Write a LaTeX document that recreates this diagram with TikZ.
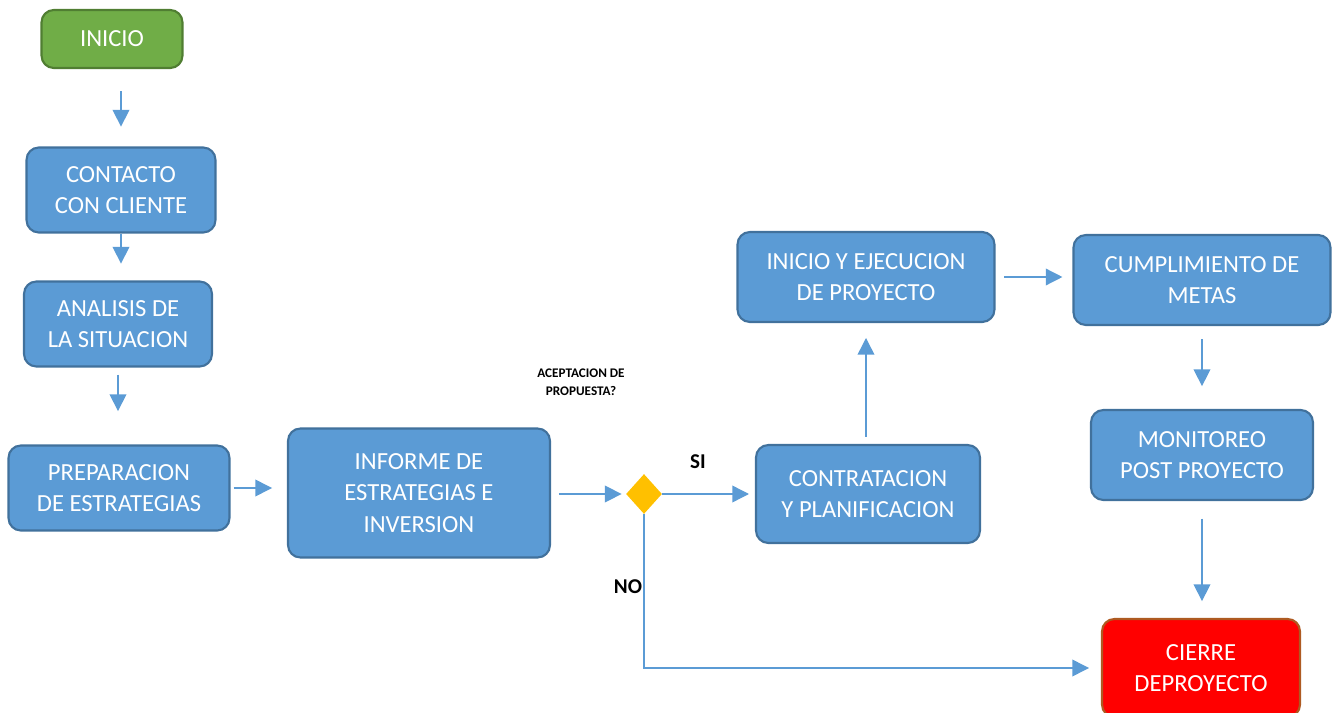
\documentclass[tikz,border=0pt]{standalone}
\usepackage{fontspec}
\setmainfont{Carlito}
\usetikzlibrary{positioning}
\usetikzlibrary{shapes.geometric}
\usetikzlibrary{arrows.meta}
\definecolor{boxblue}{HTML}{5B9BD5}
\definecolor{boxline}{HTML}{41719C}
\definecolor{startgreen}{HTML}{70AD47}
\definecolor{startline}{HTML}{507E32}
\definecolor{endline}{HTML}{AE5A21}
\definecolor{askyellow}{HTML}{FFC000}
\tikzset{proc/.style={draw=boxline, fill=boxblue, line width=1.2pt, rounded corners=7pt, text=white, align=center, font=\fontsize{14}{18}\selectfont, inner sep=2pt}}
\tikzset{startbox/.style={proc, draw=startline, fill=startgreen}}
\tikzset{endbox/.style={proc, draw=endline, fill=red}}
\tikzset{ask/.style={diamond, fill=askyellow, inner sep=0pt, minimum width=0.72cm, minimum height=0.8cm}}
\tikzset{arr/.style={draw=boxblue, line width=0.8pt, -{Triangle[length=9.5pt,width=9.5pt]}}}
\tikzset{lbl/.style={font=\bfseries\fontsize{12}{14}\selectfont}}
\begin{document}
\begin{tikzpicture}[x=0.02cm, y=-0.02cm]
        \useasboundingbox (0,0) rectangle (1333,713);

        \node[startbox, minimum width=2.82cm, minimum height=1.16cm] (inicio) at (112,39) {INICIO};
        \node[proc, minimum width=3.78cm, minimum height=1.7cm] (contacto) at (121,190) {CONTACTO\\CON CLIENTE};
        \node[proc, minimum width=3.76cm, minimum height=1.7cm] (analisis) at (118,324) {ANALISIS DE\\LA SITUACION};
        \node[proc, minimum width=4.42cm, minimum height=1.7cm] (prep) at (119,488) {PREPARACION\\DE ESTRATEGIAS};
        \node[proc, minimum width=5.24cm, minimum height=2.58cm] (informe) at (419,493) {INFORME DE\\ESTRATEGIAS E\\INVERSION};
        \node[ask] (acept) at (644,494) {};
        \node[proc, minimum width=4.48cm, minimum height=1.96cm] (contrat) at (868,494) {CONTRATACION\\Y PLANIFICACION};
        \node[proc, minimum width=5.14cm, minimum height=1.8cm] (ejec) at (866,277) {INICIO Y EJECUCION\\DE PROYECTO};
        \node[proc, minimum width=5.14cm, minimum height=1.8cm] (metas) at (1202,280) {CUMPLIMIENTO DE\\METAS};
        \node[proc, minimum width=4.44cm, minimum height=1.8cm] (monit) at (1202,455) {MONITOREO\\POST PROYECTO};
        \node[endbox, minimum width=3.96cm, minimum height=1.96cm] (cierre) at (1201,668) {CIERRE\\DEPROYECTO};

        % labels of the decision
        \node[font=\bfseries\fontsize{7.5}{10}\selectfont, align=center] (pregunta) at (581,382) {ACEPTACION DE\\PROPUESTA?};
        \node[lbl] (si) at (698,462) {SI};
        \node[lbl] (no) at (628,587) {NO};
        \coordinate (esquina) at (acept.south |- cierre.west);

        \draw[arr, shorten <=12.5pt, shorten >=11.3pt] (contacto.north |- inicio.south) -- (contacto.north);
        \draw[arr, shorten >=9.6pt] (contacto.south) -- (contacto.south |- analisis.north);
        \draw[arr, shorten <=4pt, shorten >=19pt] (analisis.south) -- (analisis.south |- prep.north);
        \draw[arr, shorten <=1.7pt, shorten >=8.5pt] (prep.east) -- (prep.east -| informe.west);
        \draw[arr, shorten <=4.5pt, shorten >=2.3pt] (informe.east |- acept.west) -- (acept.west);
        \draw[arr, shorten >=3.4pt] (acept.east) -- (contrat.west);
        \draw[arr, shorten <=4pt, shorten >=8.5pt] (contrat.north -| ejec.south) -- (ejec.south);
        \draw[arr, shorten <=5pt, shorten >=5.7pt] (ejec.east) -- (ejec.east -| metas.west);
        \draw[arr, shorten <=7.4pt, shorten >=13pt] (metas.south) -- (metas.south |- monit.north);
        \draw[arr, shorten <=10pt, shorten >=9.6pt] (monit.south) -- (monit.south |- cierre.north);
        \draw[arr, shorten >=6.8pt] (acept.south) -- (esquina) -- (cierre.west);
\end{tikzpicture}
\end{document}
